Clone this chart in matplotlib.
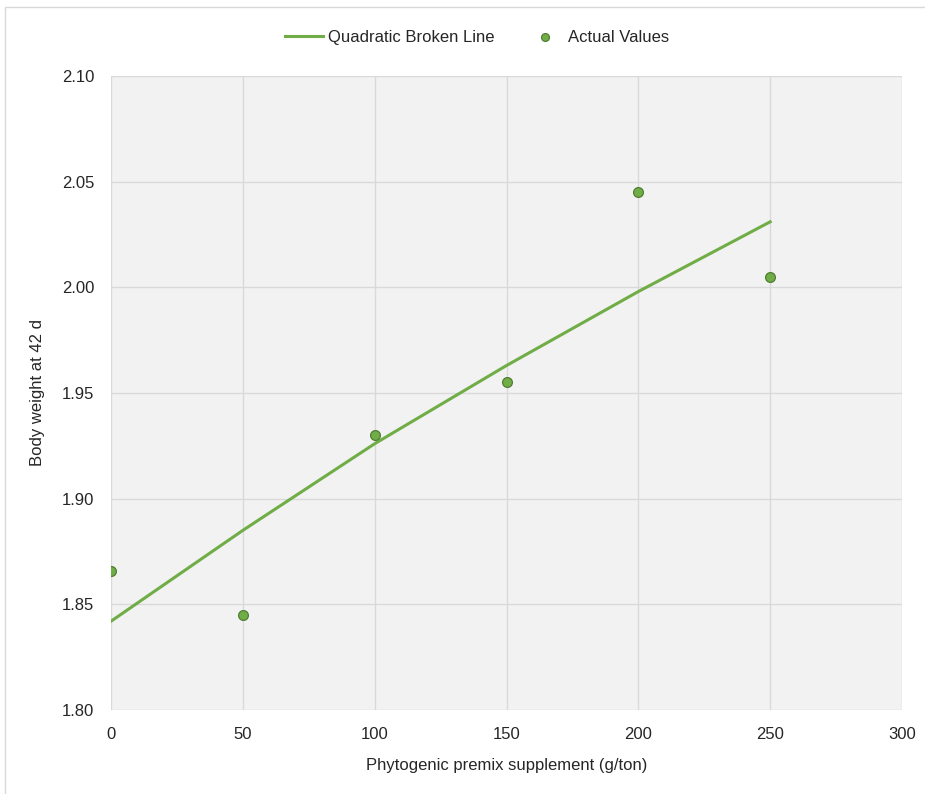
import matplotlib.pyplot as plt
from matplotlib.patches import Rectangle

plt.rcParams["font.family"] = ["Liberation Sans", "DejaVu Sans"]

# data
dose = [0, 50, 100, 150, 200, 250]
actual = [1.866, 1.845, 1.930, 1.955, 2.045, 2.005]
fitted = [1.842, 1.885, 1.926, 1.963, 1.998, 2.031]

x_ticks = [0, 50, 100, 150, 200, 250, 300]
y_ticks = [1.80, 1.85, 1.90, 1.95, 2.00, 2.05, 2.10]

LINE_GREEN = "#70ad47"
EDGE_GREEN = "#507e32"
TEXT = "#262626"

fig = plt.figure(figsize=(9.25, 7.94), dpi=100)
fig.patches.append(Rectangle((5 / 925, -0.05), 1.1, 1 - 7 / 794 + 0.05,
                             transform=fig.transFigure, fill=False,
                             edgecolor="#d9d9d9", linewidth=1))

ax = fig.add_axes([111 / 925, 1 - 710 / 794, (902 - 111) / 925, (710 - 76) / 794])
ax.set_facecolor("#f2f2f2")

ax.plot(dose, fitted, color=LINE_GREEN, lw=2.2, label="Quadratic Broken Line", zorder=3)
ax.scatter(dose, actual, s=50, color=LINE_GREEN, edgecolor=EDGE_GREEN,
           linewidth=0.9, label="Actual Values", zorder=4)

ax.set_xlim(0, 300)
ax.set_ylim(1.80, 2.10)
ax.set_xticks(x_ticks)
ax.set_yticks(y_ticks)
ax.set_yticklabels([f"{v:.2f}" for v in y_ticks])
ax.grid(True, color="#d9d9d9", lw=1)
ax.set_axisbelow(True)
for s in ax.spines.values():
    s.set_visible(False)
ax.tick_params(length=0, labelsize=12, colors=TEXT, pad=12)

ax.set_xlabel("Phytogenic premix supplement (g/ton)", fontsize=12, color=TEXT, labelpad=12)
ax.set_ylabel("Body weight at 42 d", fontsize=12, color=TEXT, labelpad=12)

fig.legend(loc="center", bbox_to_anchor=(0.516, 0.953), ncol=2, frameon=False,
           fontsize=12, handlelength=2.3, columnspacing=1.9, labelcolor=TEXT,
           handletextpad=0.25, markerscale=0.8)

fig.savefig("out.png", dpi=100)
